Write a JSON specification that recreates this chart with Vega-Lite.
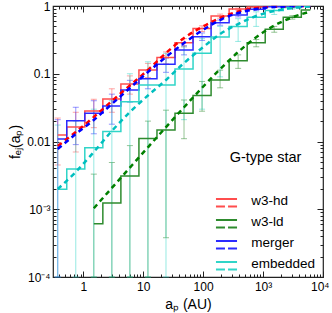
{
  "$schema": "https://vega.github.io/schema/vega-lite/v6.json",
  "width": 270,
  "height": 271,
  "autosize": {"type": "none"},
  "padding": {"left": 53, "top": 6, "right": 9, "bottom": 36},
  "background": "white",
  "datasets": {
    "steps": [
      {"model": "w3-hd", "a": 0.375, "f": 0.0125}, {"model": "w3-hd", "a": 0.75, "f": 0.0164}, {"model": "w3-hd", "a": 1.5, "f": 0.0282}, {"model": "w3-hd", "a": 3, "f": 0.0424}, {"model": "w3-hd", "a": 6, "f": 0.0706}, {"model": "w3-hd", "a": 12, "f": 0.1135}, {"model": "w3-hd", "a": 24, "f": 0.174}, {"model": "w3-hd", "a": 48, "f": 0.287}, {"model": "w3-hd", "a": 96, "f": 0.466}, {"model": "w3-hd", "a": 192, "f": 0.71}, {"model": "w3-hd", "a": 384, "f": 0.9}, {"model": "w3-hd", "a": 768, "f": 0.967}, {"model": "w3-hd", "a": 1536, "f": 0.99}, {"model": "w3-hd", "a": 3072, "f": 0.998}, {"model": "w3-hd", "a": 6144, "f": 1.0},
      {"model": "w3-ld", "a": 1.5, "f": 0.00061}, {"model": "w3-ld", "a": 3, "f": 0.00124}, {"model": "w3-ld", "a": 6, "f": 0.0031}, {"model": "w3-ld", "a": 12, "f": 0.0111}, {"model": "w3-ld", "a": 24, "f": 0.0148}, {"model": "w3-ld", "a": 48, "f": 0.0261}, {"model": "w3-ld", "a": 96, "f": 0.0478}, {"model": "w3-ld", "a": 192, "f": 0.0809}, {"model": "w3-ld", "a": 384, "f": 0.156}, {"model": "w3-ld", "a": 768, "f": 0.287}, {"model": "w3-ld", "a": 1536, "f": 0.453}, {"model": "w3-ld", "a": 3072, "f": 0.681}, {"model": "w3-ld", "a": 6144, "f": 0.873},
      {"model": "merger", "a": 0.375, "f": 0.0109}, {"model": "merger", "a": 0.75, "f": 0.0203}, {"model": "merger", "a": 1.5, "f": 0.0261}, {"model": "merger", "a": 3, "f": 0.0334}, {"model": "merger", "a": 6, "f": 0.0575}, {"model": "merger", "a": 12, "f": 0.0845}, {"model": "merger", "a": 24, "f": 0.138}, {"model": "merger", "a": 48, "f": 0.224}, {"model": "merger", "a": 96, "f": 0.352}, {"model": "merger", "a": 192, "f": 0.567}, {"model": "merger", "a": 384, "f": 0.736}, {"model": "merger", "a": 768, "f": 0.894}, {"model": "merger", "a": 1536, "f": 0.973}, {"model": "merger", "a": 3072, "f": 0.993}, {"model": "merger", "a": 6144, "f": 1.0},
      {"model": "embedded", "a": 0.375, "f": 0.00197}, {"model": "embedded", "a": 0.75, "f": 0.00393}, {"model": "embedded", "a": 1.5, "f": 0.0081}, {"model": "embedded", "a": 3, "f": 0.014}, {"model": "embedded", "a": 6, "f": 0.0387}, {"model": "embedded", "a": 12, "f": 0.068}, {"model": "embedded", "a": 24, "f": 0.068}, {"model": "embedded", "a": 48, "f": 0.118}, {"model": "embedded", "a": 96, "f": 0.2}, {"model": "embedded", "a": 192, "f": 0.35}, {"model": "embedded", "a": 384, "f": 0.5}, {"model": "embedded", "a": 768, "f": 0.68}, {"model": "embedded", "a": 1536, "f": 0.86}, {"model": "embedded", "a": 3072, "f": 0.95}, {"model": "embedded", "a": 6144, "f": 0.99}
    ],
    "dashed": [
      {"model": "w3-hd", "a": 0.375, "f": 0.0086}, {"model": "w3-hd", "a": 0.75, "f": 0.0138}, {"model": "w3-hd", "a": 1.5, "f": 0.023}, {"model": "w3-hd", "a": 3, "f": 0.0396}, {"model": "w3-hd", "a": 6, "f": 0.0671}, {"model": "w3-hd", "a": 12, "f": 0.1136}, {"model": "w3-hd", "a": 24, "f": 0.2024}, {"model": "w3-hd", "a": 48, "f": 0.337}, {"model": "w3-hd", "a": 96, "f": 0.49}, {"model": "w3-hd", "a": 192, "f": 0.665}, {"model": "w3-hd", "a": 384, "f": 0.829}, {"model": "w3-hd", "a": 768, "f": 0.934}, {"model": "w3-hd", "a": 1536, "f": 0.983}, {"model": "w3-hd", "a": 3072, "f": 0.998}, {"model": "w3-hd", "a": 6144, "f": 1.0},
      {"model": "w3-ld", "a": 1.5, "f": 0.001034}, {"model": "w3-ld", "a": 3, "f": 0.002065}, {"model": "w3-ld", "a": 6, "f": 0.00412}, {"model": "w3-ld", "a": 12, "f": 0.00821}, {"model": "w3-ld", "a": 24, "f": 0.0163}, {"model": "w3-ld", "a": 48, "f": 0.032}, {"model": "w3-ld", "a": 96, "f": 0.0621}, {"model": "w3-ld", "a": 192, "f": 0.117}, {"model": "w3-ld", "a": 384, "f": 0.209}, {"model": "w3-ld", "a": 768, "f": 0.346}, {"model": "w3-ld", "a": 1536, "f": 0.514}, {"model": "w3-ld", "a": 3072, "f": 0.68}, {"model": "w3-ld", "a": 6144, "f": 0.83},
      {"model": "merger", "a": 0.375, "f": 0.00775}, {"model": "merger", "a": 0.75, "f": 0.0129}, {"model": "merger", "a": 1.5, "f": 0.0208}, {"model": "merger", "a": 3, "f": 0.0358}, {"model": "merger", "a": 6, "f": 0.0616}, {"model": "merger", "a": 12, "f": 0.106}, {"model": "merger", "a": 24, "f": 0.177}, {"model": "merger", "a": 48, "f": 0.284}, {"model": "merger", "a": 96, "f": 0.435}, {"model": "merger", "a": 192, "f": 0.621}, {"model": "merger", "a": 384, "f": 0.788}, {"model": "merger", "a": 768, "f": 0.903}, {"model": "merger", "a": 1536, "f": 0.967}, {"model": "merger", "a": 3072, "f": 0.99}, {"model": "merger", "a": 6144, "f": 1.0},
      {"model": "embedded", "a": 0.375, "f": 0.00199}, {"model": "embedded", "a": 0.75, "f": 0.00355}, {"model": "embedded", "a": 1.5, "f": 0.007}, {"model": "embedded", "a": 3, "f": 0.0143}, {"model": "embedded", "a": 6, "f": 0.0272}, {"model": "embedded", "a": 12, "f": 0.0477}, {"model": "embedded", "a": 24, "f": 0.0809}, {"model": "embedded", "a": 48, "f": 0.144}, {"model": "embedded", "a": 96, "f": 0.24}, {"model": "embedded", "a": 192, "f": 0.386}, {"model": "embedded", "a": 384, "f": 0.542}, {"model": "embedded", "a": 768, "f": 0.711}, {"model": "embedded", "a": 1536, "f": 0.844}, {"model": "embedded", "a": 3072, "f": 0.934}, {"model": "embedded", "a": 6144, "f": 0.983}
    ],
    "err": [
      {"model": "w3-hd", "a": 0.375, "lo": 0.0045, "hi": 0.0222}, {"model": "w3-hd", "a": 0.75, "lo": 0.007, "hi": 0.027}, {"model": "w3-hd", "a": 1.5, "lo": 0.016, "hi": 0.042}, {"model": "w3-hd", "a": 3, "lo": 0.027, "hi": 0.06}, {"model": "w3-hd", "a": 6, "lo": 0.05, "hi": 0.093}, {"model": "w3-hd", "a": 12, "lo": 0.088, "hi": 0.142}, {"model": "w3-hd", "a": 24, "lo": 0.14, "hi": 0.21}, {"model": "w3-hd", "a": 48, "lo": 0.25, "hi": 0.33}, {"model": "w3-hd", "a": 96, "lo": 0.42, "hi": 0.51}, {"model": "w3-hd", "a": 192, "lo": 0.66, "hi": 0.76}, {"model": "w3-hd", "a": 384, "lo": 0.87, "hi": 0.93}, {"model": "w3-hd", "a": 768, "lo": 0.95, "hi": 0.985}, {"model": "w3-hd", "a": 1536, "lo": 0.98, "hi": 1.0},
      {"model": "w3-ld", "a": 1.5, "lo": 0.0001, "hi": 0.0033}, {"model": "w3-ld", "a": 3, "lo": 0.0001, "hi": 0.0049}, {"model": "w3-ld", "a": 6, "lo": 0.0001, "hi": 0.0087}, {"model": "w3-ld", "a": 12, "lo": 0.0001, "hi": 0.02}, {"model": "w3-ld", "a": 24, "lo": 0.00038, "hi": 0.029}, {"model": "w3-ld", "a": 48, "lo": 0.011, "hi": 0.041}, {"model": "w3-ld", "a": 96, "lo": 0.028, "hi": 0.077}, {"model": "w3-ld", "a": 192, "lo": 0.062, "hi": 0.113}, {"model": "w3-ld", "a": 384, "lo": 0.12, "hi": 0.19}, {"model": "w3-ld", "a": 768, "lo": 0.25, "hi": 0.32}, {"model": "w3-ld", "a": 1536, "lo": 0.41, "hi": 0.5}, {"model": "w3-ld", "a": 3072, "lo": 0.64, "hi": 0.72},
      {"model": "merger", "a": 0.375, "lo": 0.0001, "hi": 0.021}, {"model": "merger", "a": 0.75, "lo": 0.009, "hi": 0.032}, {"model": "merger", "a": 1.5, "lo": 0.013, "hi": 0.04}, {"model": "merger", "a": 3, "lo": 0.018, "hi": 0.05}, {"model": "merger", "a": 6, "lo": 0.038, "hi": 0.08}, {"model": "merger", "a": 12, "lo": 0.06, "hi": 0.11}, {"model": "merger", "a": 24, "lo": 0.105, "hi": 0.17}, {"model": "merger", "a": 48, "lo": 0.19, "hi": 0.26}, {"model": "merger", "a": 96, "lo": 0.31, "hi": 0.4}, {"model": "merger", "a": 192, "lo": 0.52, "hi": 0.62}, {"model": "merger", "a": 384, "lo": 0.69, "hi": 0.78}, {"model": "merger", "a": 768, "lo": 0.86, "hi": 0.93}, {"model": "merger", "a": 1536, "lo": 0.96, "hi": 0.99},
      {"model": "embedded", "a": 0.375, "lo": 0.0001, "hi": 0.0175}, {"model": "embedded", "a": 0.75, "lo": 0.0001, "hi": 0.02}, {"model": "embedded", "a": 1.5, "lo": 0.0001, "hi": 0.03}, {"model": "embedded", "a": 3, "lo": 0.0001, "hi": 0.04}, {"model": "embedded", "a": 6, "lo": 0.0001, "hi": 0.1}, {"model": "embedded", "a": 12, "lo": 0.0001, "hi": 0.15}, {"model": "embedded", "a": 24, "lo": 0.0001, "hi": 0.2}, {"model": "embedded", "a": 48, "lo": 0.021, "hi": 0.25}, {"model": "embedded", "a": 96, "lo": 0.03, "hi": 0.33}, {"model": "embedded", "a": 192, "lo": 0.09, "hi": 0.5}, {"model": "embedded", "a": 384, "lo": 0.3, "hi": 0.65}, {"model": "embedded", "a": 768, "lo": 0.5, "hi": 0.82}, {"model": "embedded", "a": 1536, "lo": 0.75, "hi": 0.95}, {"model": "embedded", "a": 3072, "lo": 0.9, "hi": 0.99}
    ]
  },
  "layer": [
    {
      "data": {"name": "err"},
      "mark": {"type": "errorbar", "ticks": {"size": 6}, "opacity": 0.5},
      "encoding": {
        "x": {"field": "a", "type": "quantitative", "scale": {"type": "log", "domain": [0.3126, 10000], "nice": false}, "axis": null},
        "y": {"field": "lo", "type": "quantitative", "scale": {"type": "log", "domain": [0.0001, 1], "nice": false}, "axis": null},
        "y2": {"field": "hi"},
        "color": {"field": "model", "type": "nominal", "scale": {"domain": ["w3-hd", "w3-ld", "merger", "embedded"], "range": ["#ff4d4d", "#2e8b2e", "#2b2bff", "#30d5c8"]}, "legend": null}
      }
    },
    {
      "data": {"name": "steps"},
      "mark": {"type": "line", "interpolate": "step", "strokeWidth": 1.5, "clip": true},
      "encoding": {
        "x": {"field": "a", "type": "quantitative", "scale": {"type": "log", "domain": [0.3126, 10000], "nice": false},
          "axis": {"orient": "bottom", "values": [1, 10, 100, 1000, 10000], "tickSize": -6, "labelPadding": 10, "labelFlush": true, "labelFlushOffset": 6, "labelOverlap": false,
            "labelExpr": "datum.value < 500 ? format(datum.value, '~g') : (datum.value < 5000 ? '10³' : '10⁴')", "title": "aₚ (AU)", "titlePadding": 5}},
        "y": {"field": "f", "type": "quantitative", "scale": {"type": "log", "domain": [0.0001, 1], "nice": false},
          "axis": {"orient": "left", "values": [0.0001, 0.001, 0.01, 0.1, 1], "tickSize": -6, "labelPadding": 9, "labelOverlap": false,
            "labelExpr": "datum.value >= 0.005 ? format(datum.value, '~g') : (datum.value < 0.0005 ? '10⁻⁴' : '10⁻³')", "title": "fₑⱼ(aₚ)", "titlePadding": 4}},
        "color": {"field": "model", "type": "nominal", "scale": {"domain": ["w3-hd", "w3-ld", "merger", "embedded"], "range": ["#ff4d4d", "#2e8b2e", "#2b2bff", "#30d5c8"]},
          "legend": {"orient": "none", "legendX": 163.5, "legendY": 145, "title": "G-type star", "titleFontSize": 14.5, "titleFontWeight": "normal", "titleColor": "#000", "titleAnchor": "middle", "titlePadding": 25,
            "labelFontSize": 13.5, "labelColor": "#000", "symbolType": "M-1.17,-0.18H1.17M-1.17,0.67H-0.17M0.17,0.67H1.17", "symbolSize": 324, "symbolStrokeWidth": 2, "labelOffset": 14.8, "rowPadding": -1.1, "padding": 0}}
      }
    },
    {
      "data": {"name": "dashed"},
      "mark": {"type": "line", "interpolate": "monotone", "strokeWidth": 2.5, "strokeDash": [5, 4], "clip": true},
      "encoding": {
        "x": {"field": "a", "type": "quantitative", "scale": {"type": "log", "domain": [0.3126, 10000], "nice": false},
          "axis": {"orient": "bottom", "values": [0.4, 0.5, 0.6, 0.7, 0.8, 0.9, 2, 3, 4, 5, 6, 7, 8, 9, 20, 30, 40, 50, 60, 70, 80, 90, 200, 300, 400, 500, 600, 700, 800, 900, 2000, 3000, 4000, 5000, 6000, 7000, 8000, 9000], "tickSize": -3, "labels": false, "title": null}},
        "y": {"field": "f", "type": "quantitative", "scale": {"type": "log", "domain": [0.0001, 1], "nice": false},
          "axis": {"orient": "left", "values": [0.0002, 0.0003, 0.0004, 0.0005, 0.0006, 0.0007, 0.0008, 0.0009, 0.002, 0.003, 0.004, 0.005, 0.006, 0.007, 0.008, 0.009, 0.02, 0.03, 0.04, 0.05, 0.06, 0.07, 0.08, 0.09, 0.2, 0.3, 0.4, 0.5, 0.6, 0.7, 0.8, 0.9], "tickSize": -3, "labels": false, "title": null}},
        "color": {"field": "model", "type": "nominal", "scale": {"domain": ["w3-hd", "w3-ld", "merger", "embedded"], "range": ["#ff0000", "#008000", "#0000ff", "#00bfbf"]}, "legend": null}
      }
    },
    {
      "data": {"name": "steps"},
      "mark": {"type": "line", "opacity": 0},
      "encoding": {
        "x": {"field": "a", "type": "quantitative", "scale": {"type": "log", "domain": [0.3126, 10000], "nice": false},
          "axis": {"orient": "top", "values": [1, 10, 100, 1000, 10000], "tickSize": -6, "labels": false, "title": null}},
        "y": {"field": "f", "type": "quantitative", "scale": {"type": "log", "domain": [0.0001, 1], "nice": false},
          "axis": {"orient": "right", "values": [0.0001, 0.001, 0.01, 0.1, 1], "tickSize": -6, "labels": false, "title": null}}
      }
    },
    {
      "data": {"name": "steps"},
      "mark": {"type": "line", "opacity": 0},
      "encoding": {
        "x": {"field": "a", "type": "quantitative", "scale": {"type": "log", "domain": [0.3126, 10000], "nice": false},
          "axis": {"orient": "top", "values": [0.4, 0.5, 0.6, 0.7, 0.8, 0.9, 2, 3, 4, 5, 6, 7, 8, 9, 20, 30, 40, 50, 60, 70, 80, 90, 200, 300, 400, 500, 600, 700, 800, 900, 2000, 3000, 4000, 5000, 6000, 7000, 8000, 9000], "tickSize": -3, "labels": false, "title": null}},
        "y": {"field": "f", "type": "quantitative", "scale": {"type": "log", "domain": [0.0001, 1], "nice": false},
          "axis": {"orient": "right", "values": [0.0002, 0.0003, 0.0004, 0.0005, 0.0006, 0.0007, 0.0008, 0.0009, 0.002, 0.003, 0.004, 0.005, 0.006, 0.007, 0.008, 0.009, 0.02, 0.03, 0.04, 0.05, 0.06, 0.07, 0.08, 0.09, 0.2, 0.3, 0.4, 0.5, 0.6, 0.7, 0.8, 0.9], "tickSize": -3, "labels": false, "title": null}}
      }
    }
  ],
  "resolve": {"scale": {"color": "independent"}, "axis": {"x": "independent", "y": "independent"}},
  "config": {
    "view": {"stroke": "#222", "strokeWidth": 1.2},
    "axis": {"domain": false, "grid": false, "labelFontSize": 12, "labelColor": "#000", "tickColor": "#222", "titleFontSize": 14, "titleFontWeight": "normal", "titleColor": "#000"}
  }
}
